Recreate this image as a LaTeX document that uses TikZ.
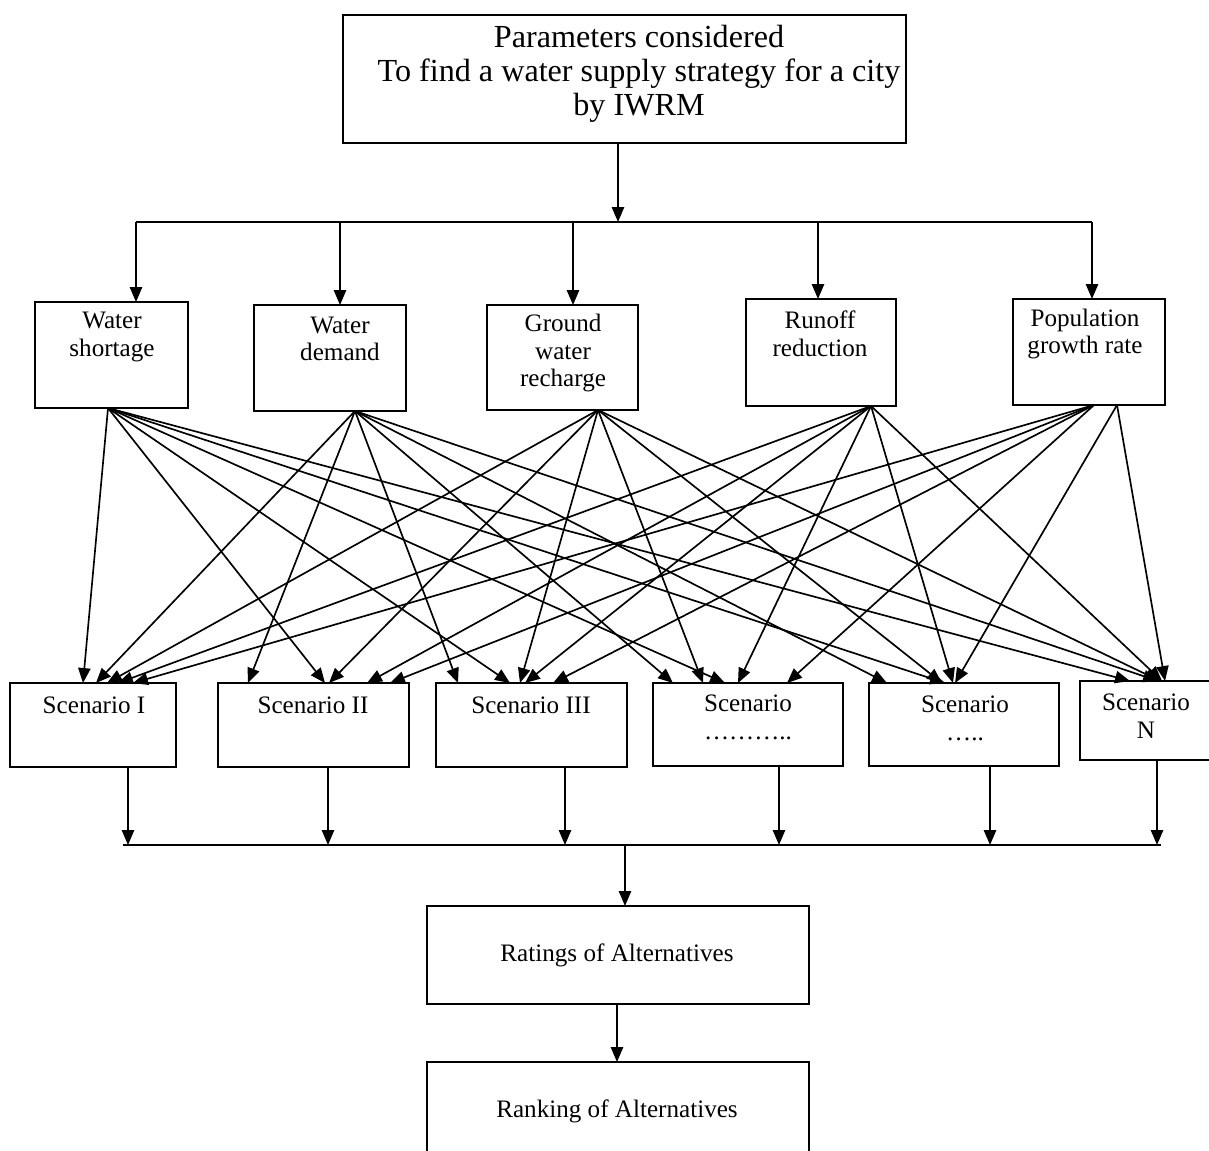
\documentclass[tikz,border=0pt]{standalone}
\usepackage{fontspec}
\setmainfont{Liberation Serif}
\usetikzlibrary{fit,arrows.meta}
\begin{document}
\begin{tikzpicture}[x=0.02cm,y=-0.02cm,
  box/.style={draw,line width=1pt,inner sep=0pt,outer sep=0pt},
  lbl/.style={align=center,inner sep=0pt,font=\fontsize{14.3}{15.8}\selectfont},
  big/.style={align=center,inner sep=0pt,font=\fontsize{18.3}{19.2}\selectfont},
  arr/.style={line width=0.95pt,-{Triangle[length=8.5pt,width=7pt]}},
  ln/.style={line width=0.95pt}]
\useasboundingbox (0,0) rectangle (1209,1150);

% top box
\node[box,fit={(343,15) (906,143)}] (top) {};
\node[big] (top-t) at (639,74) {Parameters considered\\To find a water supply strategy for a city\\by IWRM};

% parameter boxes
\node[box,fit={(35,302) (188,408)}] (ws) {};
\node[box,fit={(254,305) (406,411)}] (wd) {};
\node[box,fit={(487,305) (638,410)}] (gw) {};
\node[box,fit={(746,299) (896,406)}] (rr) {};
\node[box,fit={(1013,299) (1165,405)}] (pg) {};
\node[lbl] (ws-t) at (112,337) {Water\\shortage};
\node[lbl] (wd-t) at (340,339) {Water\\demand};
\node[lbl] (gw-t) at (563,353) {Ground\\water\\recharge};
\node[lbl] (rr-t) at (820,334) {Runoff\\reduction};
\node[lbl] (pg-t) at (1085,334) {Population\\growth rate};

% scenario boxes
\node[box,fit={(10,683) (176,767)}] (s1) {};
\node[box,fit={(218,683) (409,767)}] (s2) {};
\node[box,fit={(436,683) (627,767)}] (s3) {};
\node[box,fit={(653,683) (843,766)}] (s4) {};
\node[box,fit={(869,683) (1059,766)}] (s5) {};
\node[box,fit={(1080,681) (1215,760)}] (sn) {};
\node[lbl] (s1-t) at (94,705) {Scenario I};
\node[lbl] (s2-t) at (313,705) {Scenario II};
\node[lbl] (s3-t) at (531,705) {Scenario III};
\node[lbl] (s4-t) at (748,717) {Scenario\\\ldots\ldots\ldots..};
\node[lbl] (s5-t) at (965,718) {Scenario\\\ldots..};
\node[lbl] (sn-t) at (1146,716) {Scenario\\N};

% result boxes
\node[box,fit={(427,906) (809,1004)}] (rat) {};
\node[box,fit={(427,1062) (809,1160)}] (rank) {};
\node[lbl] (rat-t) at (617,955) {Ratings of Alternatives};
\node[lbl] (rank-t) at (617,1111) {Ranking of Alternatives};

% distribution from the top box to the parameters
\coordinate (busL) at (136,222);
\coordinate (busR) at (1092,222);
\draw[arr] (618,0 |- top.south) -- (618,0 |- busL);
\draw[ln] (busL) -- (busR);
\draw[arr] (busL) -- (busL |- ws.north);
\draw[arr] (340,0 |- busL) -- (340,0 |- wd.north);
\draw[arr] (573,0 |- busL) -- (573,0 |- gw.north);
\draw[arr] (818,0 |- busL) -- (818,0 |- rr.north);
\draw[arr] (busR) -- (busR |- pg.north);

% outlets of the parameter boxes
\coordinate (ws-o) at (108,408);
\coordinate (wd-o) at (355,411);
\coordinate (gw-o) at (598,410);
\coordinate (rr-o) at (871,406);
\coordinate (pg-a) at (1094,405);
\coordinate (pg-b) at (1117,405);

% every parameter feeds every scenario
\foreach \src/\tgt/\tx in {
  ws-o/s1/83, ws-o/s2/325, ws-o/s3/510, ws-o/s4/725, ws-o/s5/945, ws-o/sn/1130,
  wd-o/s1/96, wd-o/s2/248, wd-o/s3/458, wd-o/s4/673, wd-o/s5/887, wd-o/sn/1158,
  gw-o/s1/107, gw-o/s2/329, gw-o/s3/520, gw-o/s4/703, gw-o/s5/942, gw-o/sn/1160,
  rr-o/s1/118, rr-o/s2/367, rr-o/s3/525, rr-o/s4/738, rr-o/s5/953, rr-o/sn/1162,
  pg-a/s1/133, pg-a/s2/390, pg-a/s3/553, pg-a/s4/787, pg-b/s5/955, pg-b/sn/1165}
  \draw[arr] (\src) -- (\tx,0 |- \tgt.north);

% collection of the scenarios
\coordinate (bbL) at (123,845);
\coordinate (bbR) at (1161,845);
\draw[ln] (bbL) -- (bbR);
\draw[arr] (128,0 |- s1.south) -- (128,0 |- bbL);
\draw[arr] (328,0 |- s2.south) -- (328,0 |- bbL);
\draw[arr] (565,0 |- s3.south) -- (565,0 |- bbL);
\draw[arr] (779,0 |- s4.south) -- (779,0 |- bbL);
\draw[arr] (990,0 |- s5.south) -- (990,0 |- bbL);
\draw[arr] (1157,0 |- sn.south) -- (1157,0 |- bbL);
\draw[arr] (625,0 |- bbL) -- (625,0 |- rat.north);
\draw[arr] (617,0 |- rat.south) -- (617,0 |- rank.north);
\end{tikzpicture}
\end{document}
